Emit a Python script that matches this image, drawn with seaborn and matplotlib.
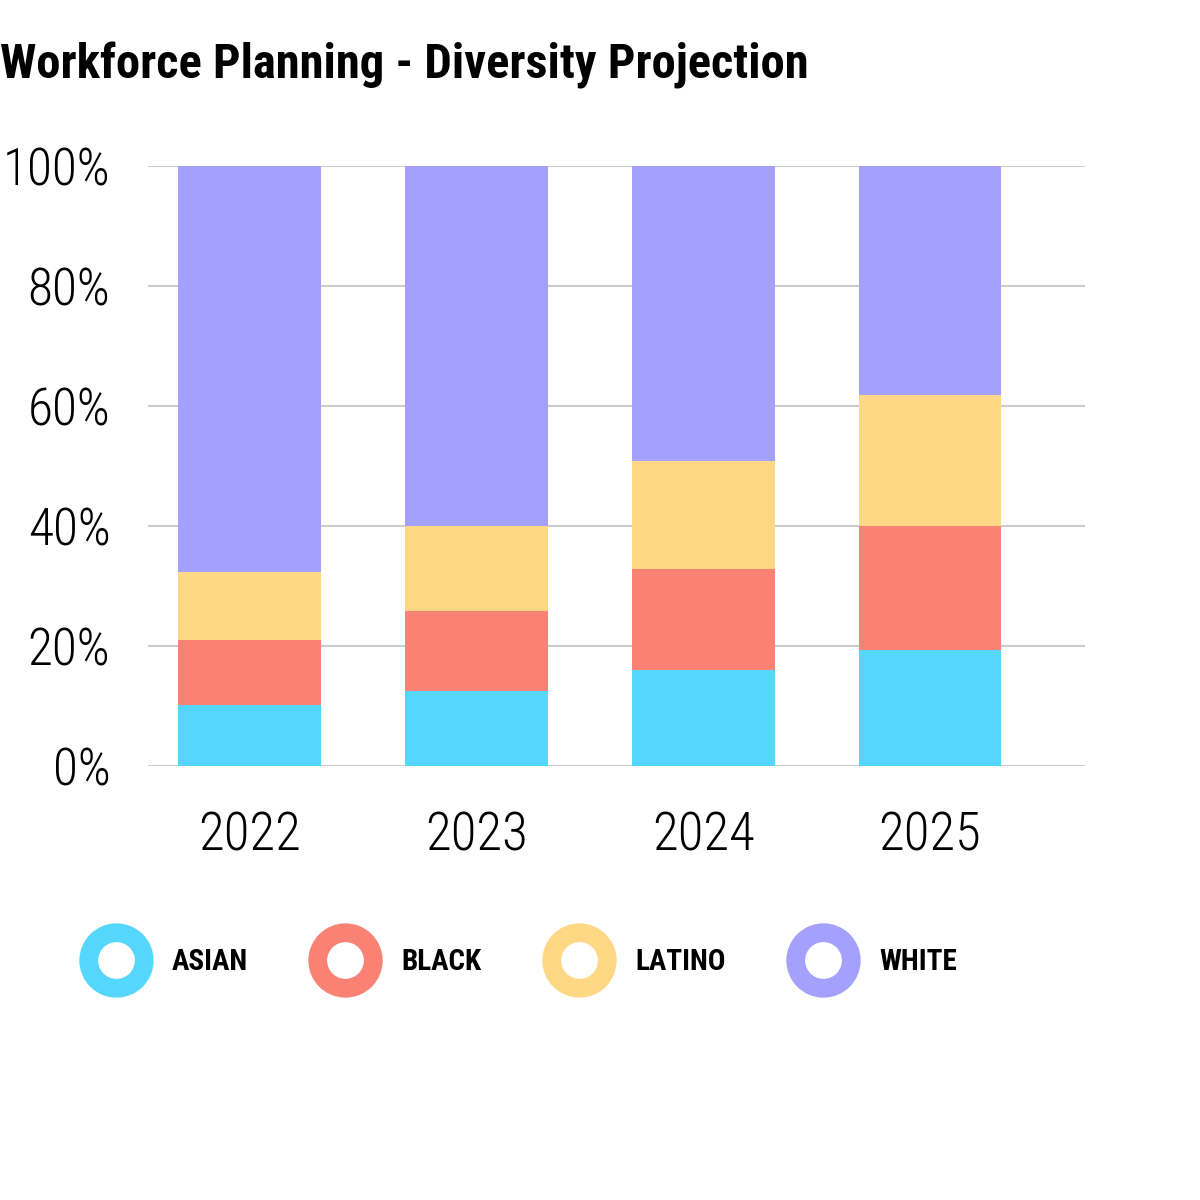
import numpy as np
import pandas as pd
import matplotlib.pyplot as plt
import matplotlib.font_manager as fm
from matplotlib.lines import Line2D
import seaborn as sns

years = ["2022", "2023", "2024", "2025"]
groups = ["ASIAN", "BLACK", "LATINO", "WHITE"]
asian = [10.2, 12.5, 16.0, 19.3]
black = [10.8, 13.3, 16.8, 20.7]
latino = [11.3, 14.2, 18.0, 21.8]
white = [67.7, 60.0, 49.2, 38.2]
colors = ["#55D6FD", "#FA8275", "#FFD885", "#A3A1FB"]

sns.set_theme(style="white")

# pick a narrow font if one is around
names = {f.name for f in fm.fontManager.ttflist}
family = "DejaVu Sans"
for cand in ["Roboto Condensed", "Liberation Sans Narrow", "DejaVu Sans Condensed"]:
    if cand in names:
        family = cand
        break
plt.rcParams["font.family"] = [family, "DejaVu Sans"]
plt.rcParams["text.color"] = "black"
plt.rcParams["xtick.color"] = "black"
plt.rcParams["ytick.color"] = "black"

df = pd.DataFrame({"year": years, "ASIAN": asian, "BLACK": black,
                   "LATINO": latino, "WHITE": white})
cum = df[groups].cumsum(axis=1)

fig = plt.figure(figsize=(12, 12), dpi=100)
ax = fig.add_axes([0.1233, 0.3617, 0.7808, 0.5])

# draw from the top layer down so lower layers sit on top
for g, c in zip(groups[::-1], colors[::-1]):
    sns.barplot(x=df["year"], y=cum[g], color=c, width=0.63,
                linewidth=0, saturation=1, ax=ax, zorder=2)

ax.set_ylim(0, 100)
ax.set_xlim(-0.449, 3.683)
ax.set_yticks([0, 20, 40, 60, 80, 100])
ax.set_yticklabels([f"{v}%" for v in [0, 20, 40, 60, 80, 100]])
ax.grid(axis="y", color="#cccccc", linewidth=1.5, zorder=0)
ax.set_axisbelow(True)
for s in ax.spines.values():
    s.set_visible(False)
ax.set_xlabel("")
ax.set_ylabel("")
ax.tick_params(axis="y", labelsize=37, pad=27, length=0)
ax.tick_params(axis="x", labelsize=38, pad=32, length=0)
for t in ax.get_xticklabels() + ax.get_yticklabels():
    t.set_fontweight("light")

fig.text(0.0, 1 - 65 / 1200, "Workforce Planning - Diversity Projection",
         fontsize=35, fontweight="semibold", va="center", ha="left")

handles = [Line2D([], [], linestyle="none", marker="o", markersize=40,
                  markerfacecolor="white", markeredgecolor=c,
                  markeredgewidth=13.5) for c in colors]
fig.legend(handles, groups, loc="center left",
           bbox_to_anchor=(0.055, 1 - 962 / 1200), ncol=4, frameon=False,
           prop={"size": 21, "weight": "bold"}, handlelength=1.6,
           handletextpad=1.12, columnspacing=2.55)

fig.savefig("out.png", dpi=100)
